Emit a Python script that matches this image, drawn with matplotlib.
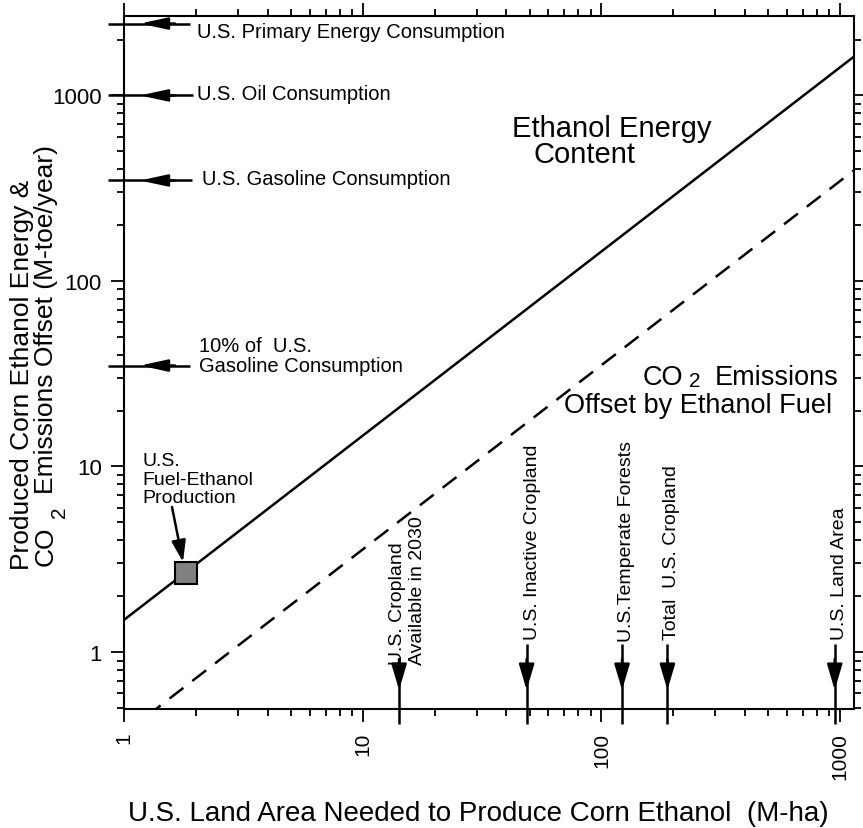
import matplotlib
matplotlib.use("Agg")
import matplotlib.pyplot as plt
from matplotlib.transforms import blended_transform_factory
from matplotlib.ticker import LogLocator, NullFormatter, FixedLocator, FixedFormatter

plt.rcParams['font.family'] = ['Liberation Sans', 'DejaVu Sans']

# ---------------- data ----------------
energy_x = [1, 1143]
energy_y = [1.49, 1620]          # Ethanol energy content (M-toe/yr)
co2_x = [1, 1143]
co2_y = [0.363, 395]             # CO2 emissions offset

fuel_ethanol_x = [1.82]
fuel_ethanol_y = [2.65]

ref_values = [2440, 1000, 348, 35]
ref_labels = ["U.S. Primary Energy Consumption",
              "U.S. Oil Consumption",
              "U.S. Gasoline Consumption",
              "10% of  U.S.\nGasoline Consumption"]

land_values = [14.2, 48.6, 122, 189, 949]
land_labels = ["U.S. Cropland\nAvailable in 2030",
               "U.S. Inactive Cropland",
               "U.S.Temperate Forests",
               "Total  U.S. Cropland",
               "U.S. Land Area"]

xticks = [1, 10, 100, 1000]
xtick_labels = ["1", "10", "100", "1000"]
yticks = [1, 10, 100, 1000]
ytick_labels = ["1", "10", "100", "1000"]
xlim = (1, 1143)
ylim = (0.493, 2680)

# ---------------- layout ----------------
W, H = 863, 829
AX_L, AX_R, AX_T, AX_B = 124, 854, 17, 710

fig = plt.figure(figsize=(W / 100, H / 100), dpi=100)
ax = fig.add_axes([AX_L / W, 1 - AX_B / H, (AX_R - AX_L) / W, (AX_B - AX_T) / H])


def P(xp, yp):
    return ((xp - AX_L) / (AX_R - AX_L), (AX_B - yp) / (AX_B - AX_T))


def fx(xp):
    return (xp - AX_L) / (AX_R - AX_L)


def fy(yp):
    return (AX_B - yp) / (AX_B - AX_T)


ax.set_xscale('log')
ax.set_yscale('log')
ax.set_xlim(*xlim)
ax.set_ylim(*ylim)

ax.plot(energy_x, energy_y, color='black', lw=1.8, solid_capstyle='butt')
ax.plot(co2_x, co2_y, color='black', lw=1.8, linestyle=(0, (7, 4.5)))
ax.plot(fuel_ethanol_x, fuel_ethanol_y, marker='s', markersize=15.5,
        markerfacecolor='#808080', markeredgecolor='black', markeredgewidth=1.5,
        linestyle='none', zorder=5)

for s in ax.spines.values():
    s.set_linewidth(1.5)

ax.xaxis.set_major_locator(FixedLocator(xticks))
ax.xaxis.set_major_formatter(FixedFormatter(xtick_labels))
ax.yaxis.set_major_locator(FixedLocator(yticks))
ax.yaxis.set_major_formatter(FixedFormatter(ytick_labels))
ax.xaxis.set_minor_locator(LogLocator(base=10, subs=range(2, 10), numticks=20))
ax.yaxis.set_minor_locator(LogLocator(base=10, subs=range(2, 10), numticks=20))
ax.xaxis.set_minor_formatter(NullFormatter())
ax.yaxis.set_minor_formatter(NullFormatter())

ax.tick_params(which='both', direction='out', top=True, right=True, width=1.3)
ax.tick_params(which='major', length=9.4)
ax.tick_params(which='minor', length=4.7)
ax.tick_params(axis='x', which='major', labelsize=15, pad=7, labelrotation=90)
ax.tick_params(axis='y', which='major', labelsize=16, pad=6.5)

trans_h = blended_transform_factory(ax.transAxes, ax.transData)
trans_v = blended_transform_factory(ax.transData, ax.transAxes)

# ---------- left reference arrows ----------
line_ends = [190, 193, 192, 190]
text_pos = [(197, 38.3), (197, 100), (202, 185), (199, 372)]
for val, lab, lend, (tx, ty) in zip(ref_values, ref_labels, line_ends, text_pos):
    ax.plot([fx(108), fx(lend)], [val, val], transform=trans_h, color='black',
            lw=1.8, clip_on=False, solid_capstyle='butt')
    ax.annotate("", xy=(fx(140), val), xycoords=trans_h,
                xytext=(fx(175), val), textcoords=trans_h,
                arrowprops=dict(arrowstyle='-|>,head_length=1.66,head_width=0.36',
                                mutation_scale=10, color='black', lw=1.8,
                                shrinkA=0, shrinkB=0),
                annotation_clip=False)
    ax.text(fx(tx), fy(ty), lab, transform=ax.transAxes, fontsize=14.5,
            ha='left', va='baseline', clip_on=False, linespacing=1.05)

# ---------- bottom land-area arrows ----------
line_tops = [660, 645, 645, 645, 645]
vt_pos = [(419, 665), (537, 640), (631, 642), (676, 640), (844, 640)]
for val, lab, ltop, (tx, ty) in zip(land_values, land_labels, line_tops, vt_pos):
    ax.plot([val, val], [fy(ltop), fy(725)], transform=trans_v, color='black',
            lw=1.8, clip_on=False, solid_capstyle='butt')
    ax.annotate("", xy=(val, fy(691)), xycoords=trans_v,
                xytext=(val, fy(660)), textcoords=trans_v,
                arrowprops=dict(arrowstyle='-|>,head_length=1.58,head_width=0.47',
                                mutation_scale=10, color='black', lw=1.8,
                                shrinkA=0, shrinkB=0),
                annotation_clip=False)
    ax.text(fx(tx), fy(ty), lab, transform=ax.transAxes, fontsize=14,
            rotation=90, rotation_mode='anchor', ha='left', va='baseline',
            multialignment='left', clip_on=False, linespacing=1.25)

# ---------- fuel ethanol production ----------
ax.text(fx(142), fy(503), "U.S.\nFuel-Ethanol\nProduction", transform=ax.transAxes,
        fontsize=14, ha='left', va='baseline', linespacing=1.1)
ax.annotate("", xy=P(183, 563), xycoords='axes fraction',
            xytext=P(172, 508), textcoords='axes fraction',
            arrowprops=dict(arrowstyle='-|>,head_length=1.3,head_width=0.43',
                            mutation_scale=10, color='black', lw=1.8,
                            shrinkA=0, shrinkB=0))

# ---------- line labels ----------
ax.text(fx(512), fy(137), "Ethanol Energy", transform=ax.transAxes,
        fontsize=21, ha='left', va='baseline')
ax.text(fx(533), fy(163), "Content", transform=ax.transAxes,
        fontsize=21, ha='left', va='baseline')
ax.text(fx(643), fy(385), "CO", transform=ax.transAxes,
        fontsize=19.5, ha='left', va='baseline')
ax.text(fx(689), fy(387), "2", transform=ax.transAxes,
        fontsize=15, ha='left', va='baseline')
ax.text(fx(715), fy(385), "Emissions", transform=ax.transAxes,
        fontsize=19.5, ha='left', va='baseline')
ax.text(fx(832), fy(413), "Offset by Ethanol Fuel", transform=ax.transAxes,
        fontsize=19.5, ha='right', va='baseline')

# ---------- axis titles ----------
ax.text(fx(29), fy(570), "Produced Corn Ethanol Energy &", transform=ax.transAxes,
        fontsize=19, rotation=90, rotation_mode='anchor', ha='left', va='baseline',
        clip_on=False)
ax.text(fx(53), fy(566), "CO", transform=ax.transAxes,
        fontsize=19, rotation=90, rotation_mode='anchor', ha='left', va='baseline',
        clip_on=False)
ax.text(fx(65), fy(518), "2", transform=ax.transAxes,
        fontsize=15, rotation=90, rotation_mode='anchor', ha='left', va='baseline',
        clip_on=False)
ax.text(fx(53), fy(494), "Emissions Offset (M-toe/year)", transform=ax.transAxes,
        fontsize=19, rotation=90, rotation_mode='anchor', ha='left', va='baseline',
        clip_on=False)

ax.text(fx(478), fy(821), "U.S. Land Area Needed to Produce Corn Ethanol  (M-ha)",
        transform=ax.transAxes, fontsize=20, ha='center', va='baseline',
        clip_on=False)

fig.savefig("out.png", dpi=100)
